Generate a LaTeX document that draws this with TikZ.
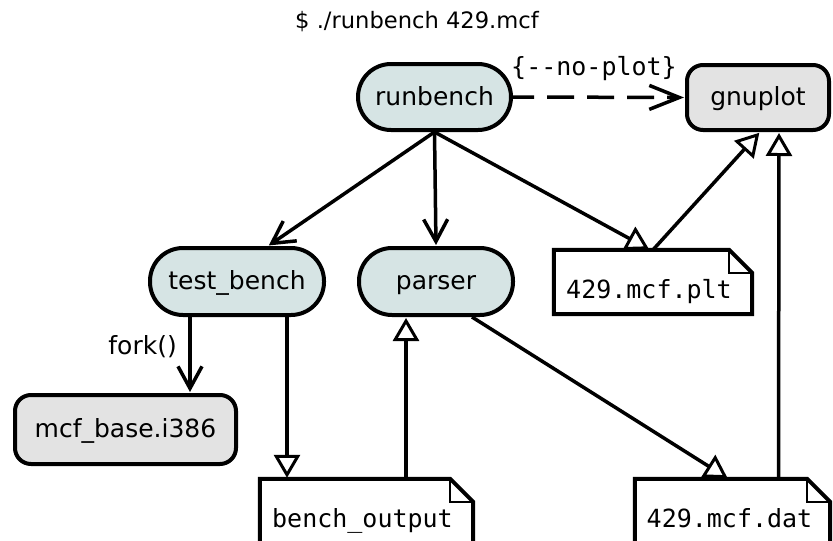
\documentclass[tikz,border=0pt]{standalone}
\usepackage{fontspec}
\setmainfont{DejaVu Sans}
\newfontfamily\monofont{DejaVu Sans Mono}
\usetikzlibrary{arrows.meta,calc}
\definecolor{procfill}{HTML}{D6E4E4}
\definecolor{toolfill}{HTML}{E3E3E3}
\begin{document}
\begin{tikzpicture}[x=1pt,y=-1pt,
  every node/.style={font=\fontsize{25}{30}\selectfont, inner sep=0pt},
  pill/.style={draw, line width=4pt, fill=procfill, rounded corners=33pt,
    text height=18pt, text depth=2pt},
  tool/.style={draw, line width=4pt, fill=toolfill, rounded corners=16pt,
    text height=18pt, text depth=2pt},
  docbox/.style={inner sep=0pt},
  mono/.style={font=\monofont\fontsize{25}{30}\selectfont},
  conn/.style={line width=3.5pt, shorten >=1pt},
  barb/.style={-{Straight Barb[length=22pt,width=24pt]}},
  bigbarb/.style={-{Straight Barb[length=30pt,width=24pt]}},
  tri/.style={-{Triangle[open,length=23pt 0 0,width=26pt 0 0,line width=3pt]}},
]
\useasboundingbox (0,0) rectangle (833,541);

% command line
\node[font=\fontsize{22.6}{27}\selectfont, anchor=base] (cmd) at (417,28) {\$ ./runbench 429.mcf};

% processes and tools
\node[pill, minimum width=153pt, minimum height=66pt] (rb) at (434.5,97) {runbench};
\node[tool, minimum width=142pt, minimum height=65pt] (gp) at (758,97.5) {gnuplot};
\node[pill, minimum width=174pt, minimum height=67pt] (tb) at (237,281.5) {test\_bench};
\node[pill, minimum width=154pt, minimum height=67pt] (ps) at (436,281.5) {parser};
\node[tool, minimum width=221pt, minimum height=69pt] (mb) at (125.5,429.5) {mcf\_base.i386};

% files (dog-eared sheets)
\node[docbox, minimum width=198pt, minimum height=64pt] (plt) at (653,282) {};
\node[docbox, minimum width=213pt, minimum height=80pt] (bo) at (366.5,519) {};
\node[docbox, minimum width=195pt, minimum height=80pt] (dat) at (732.5,519) {};
\foreach \d in {plt,bo,dat} {
  \draw[line width=4pt, fill=white]
    (\d.south west) -- (\d.north west) -- ([xshift=-23pt]\d.north east)
    -- ([yshift=-23pt]\d.north east) -- (\d.south east) -- cycle;
  \draw[line width=2pt]
    ([xshift=-23pt]\d.north east) -- ([xshift=-23pt,yshift=-23pt]\d.north east)
    -- ([yshift=-23pt]\d.north east);
}
\node[mono, anchor=base] (plttxt) at (649,298) {429.mcf.plt};
\node[mono, anchor=base] (botxt) at (362.5,527) {bench\_output};
\node[mono, anchor=base] (dattxt) at (729.5,527) {429.mcf.dat};

% connectors
\draw[conn, bigbarb, dash pattern=on 27pt off 13pt, dash phase=6pt] (rb.east) -- (gp.west);
\node[mono, anchor=base] (noplot) at (594,75) {\{-{}-no-plot\}};

\draw[conn, barb] (rb.south) -- ([xshift=31pt]tb.north);
\draw[conn, barb] (rb.south) -- (ps.north);
\draw[conn, tri] (rb.south) -- ([xshift=-3pt]plt.north);
\draw[conn, tri] (plt.north) -- ([xshift=2pt]gp.south);
\draw[conn, tri] ([xshift=46pt]dat.north) -- ([xshift=21pt]gp.south);
\draw[conn, tri] ([xshift=36pt]ps.south) -- ([xshift=-4pt]dat.north);
\draw[conn, barb] ([xshift=-47pt]tb.south) -- ([xshift=64.5pt]mb.north);
\node[anchor=base east] (fork) at (177,354) {fork()};
\draw[conn, tri] ([xshift=50pt]tb.south) -- ([xshift=-79.5pt]bo.north);
\draw[conn, tri] ([xshift=39.5pt]bo.north) -- ([xshift=-30pt]ps.south);
\end{tikzpicture}
\end{document}
